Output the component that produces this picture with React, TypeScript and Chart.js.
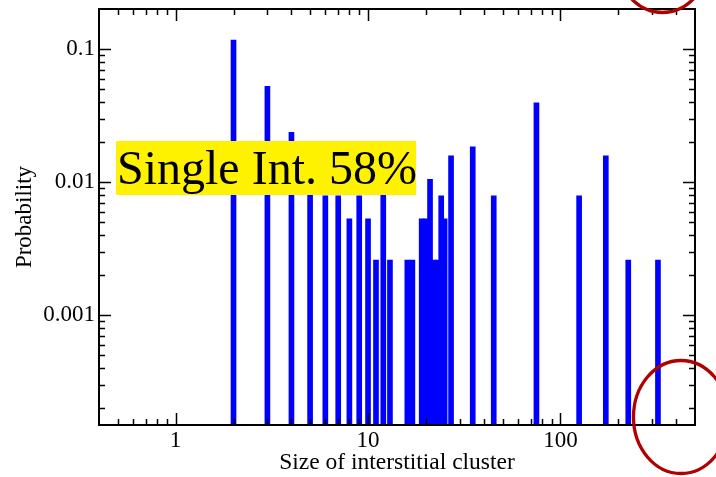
import React, { useEffect, useRef } from 'react';
import { Chart, registerables } from 'chart.js';

Chart.register(...registerables);

// Cluster sizes (number of interstitials) and their observed probabilities
const clusterSizes = [2, 3, 4, 5, 6, 7, 8, 9, 10, 11, 12, 13, 16, 17, 19, 20, 21, 22, 23, 24, 25, 27, 35, 45, 75, 125, 172, 225, 321];
const probabilities = [
  0.1168, 0.0526, 0.0237, 0.0105, 0.0079, 0.0079, 0.0053, 0.0079, 0.0053, 0.0026,
  0.0105, 0.0026, 0.0026, 0.0026, 0.0053, 0.0053, 0.0105, 0.0026, 0.0026, 0.0079,
  0.0053, 0.0158, 0.0184, 0.0079, 0.0395, 0.0079, 0.0158, 0.0026, 0.0026,
];

// Labelled decades on each axis
const xTickLabels = [1, 10, 100];
const yTickLabels = [0.1, 0.01, 0.001];

// Axis ranges
const xRange = [0.4, 500];
const yRange = [0.00015, 0.2];

const xTitle = 'Size of interstitial cluster';
const yTitle = 'Probability';
const noteText = 'Single Int. 58%';

const SERIF = "'Liberation Serif', 'Times New Roman', serif";

// Values at 1..9 x 10^n inside [min, max]
function logTickValues(min: number, max: number) {
  const out: { value: number; major: boolean }[] = [];
  const d0 = Math.floor(Math.log10(min));
  const d1 = Math.ceil(Math.log10(max));
  for (let d = d0; d <= d1; d++) {
    for (let k = 1; k <= 9; k++) {
      const v = k * Math.pow(10, d);
      if (v > min * 1.0001 && v < max * 0.9999) out.push({ value: v, major: k === 1 });
    }
  }
  return out;
}

// Frame with inward ticks on all four sides, the highlighted note and the ring marks
const framePlugin = {
  id: 'frameTicks',
  afterDatasetsDraw(chart: any) {
    const { ctx, chartArea, scales } = chart;
    const { left, right, top, bottom } = chartArea;
    const xs = scales.x;
    const ys = scales.y;
    ctx.save();
    ctx.strokeStyle = '#000';
    ctx.lineWidth = 1.5;
    ctx.beginPath();
    for (const t of logTickValues(xRange[0], xRange[1])) {
      const px = Math.round(xs.getPixelForValue(t.value)) + 0.5;
      const len = t.major ? 12 : 6;
      ctx.moveTo(px, bottom);
      ctx.lineTo(px, bottom - len);
      ctx.moveTo(px, top);
      ctx.lineTo(px, top + len);
    }
    for (const t of logTickValues(yRange[0], yRange[1])) {
      const py = Math.round(ys.getPixelForValue(t.value)) + 0.5;
      const len = t.major ? 12 : 6;
      ctx.moveTo(left, py);
      ctx.lineTo(left + len, py);
      ctx.moveTo(right, py);
      ctx.lineTo(right - len, py);
    }
    ctx.stroke();
    ctx.lineWidth = 2;
    ctx.strokeRect(left, top, right - left, bottom - top);

    // highlighted note
    const bx = left + 17;
    const by = top + 132;
    ctx.fillStyle = '#fff200';
    ctx.fillRect(bx, by, 300, 54);
    ctx.fillStyle = '#000';
    ctx.font = `48px ${SERIF}`;
    ctx.textBaseline = 'alphabetic';
    ctx.textAlign = 'left';
    ctx.fillText(noteText, bx + 1, by + 43);

    // ring marks
    ctx.strokeStyle = '#b00000';
    ctx.lineWidth = 3.3;
    ctx.beginPath();
    ctx.ellipse(right - 32.5, top - 53, 47.5, 56.5, 0, 0, Math.PI * 2);
    ctx.stroke();
    ctx.beginPath();
    ctx.ellipse(right - 14, bottom - 8, 47.5, 56.5, 0, 0, Math.PI * 2);
    ctx.stroke();
    ctx.restore();
  },
};

export default function App() {
  const canvasRef = useRef<HTMLCanvasElement | null>(null);

  useEffect(() => {
    const canvas = canvasRef.current;
    if (!canvas) return;
    const chart = new Chart(canvas, {
      type: 'bar',
      data: {
        datasets: [
          {
            data: clusterSizes.map((x, i) => ({ x, y: probabilities[i] })),
            backgroundColor: '#0000ff',
            borderWidth: 0,
            barThickness: 5,
          },
        ],
      },
      options: {
        responsive: false,
        animation: false,
        events: [],
        layout: { padding: { top: 9, right: 21, left: 0, bottom: 0 } },
        plugins: { legend: { display: false }, tooltip: { enabled: false } },
        scales: {
          x: {
            type: 'logarithmic',
            min: xRange[0],
            max: xRange[1],
            offset: false,
            grid: { display: false, drawTicks: false },
            border: { display: false },
            afterBuildTicks: (s: any) => {
              s.ticks = xTickLabels.map((v) => ({ value: v }));
            },
            afterFit: (s: any) => {
              s.height = 52;
              s.paddingLeft = 0;
              s.paddingRight = 0;
            },
            ticks: {
              autoSkip: false,
              maxRotation: 0,
              padding: 2,
              color: '#000',
              font: { family: SERIF, size: 23 },
              callback: (v: any) => String(v),
            },
            title: {
              display: true,
              text: xTitle,
              color: '#000',
              font: { family: SERIF, size: 23.5 },
              padding: { top: 0, bottom: 0 },
            },
          },
          y: {
            type: 'logarithmic',
            min: yRange[0],
            max: yRange[1],
            grid: { display: false, drawTicks: false },
            border: { display: false },
            afterBuildTicks: (s: any) => {
              s.ticks = yTickLabels.map((v) => ({ value: v }));
            },
            afterFit: (s: any) => {
              s.width = 99;
              s.paddingTop = 0;
              s.paddingBottom = 0;
            },
            ticks: {
              autoSkip: false,
              padding: 4,
              color: '#000',
              font: { family: SERIF, size: 23 },
              callback: (v: any) => String(v),
            },
            title: {
              display: true,
              text: yTitle,
              color: '#000',
              font: { family: SERIF, size: 23 },
              padding: { top: 11, bottom: 0 },
            },
          },
        },
      },
      plugins: [framePlugin],
    } as any);
    return () => chart.destroy();
  }, []);

  return (
    <div style={{ position: 'absolute', left: 0, top: 0, width: 716, height: 477, background: '#fff' }}>
      <canvas ref={canvasRef} width={716} height={477} style={{ display: 'block' }} />
    </div>
  );
}
